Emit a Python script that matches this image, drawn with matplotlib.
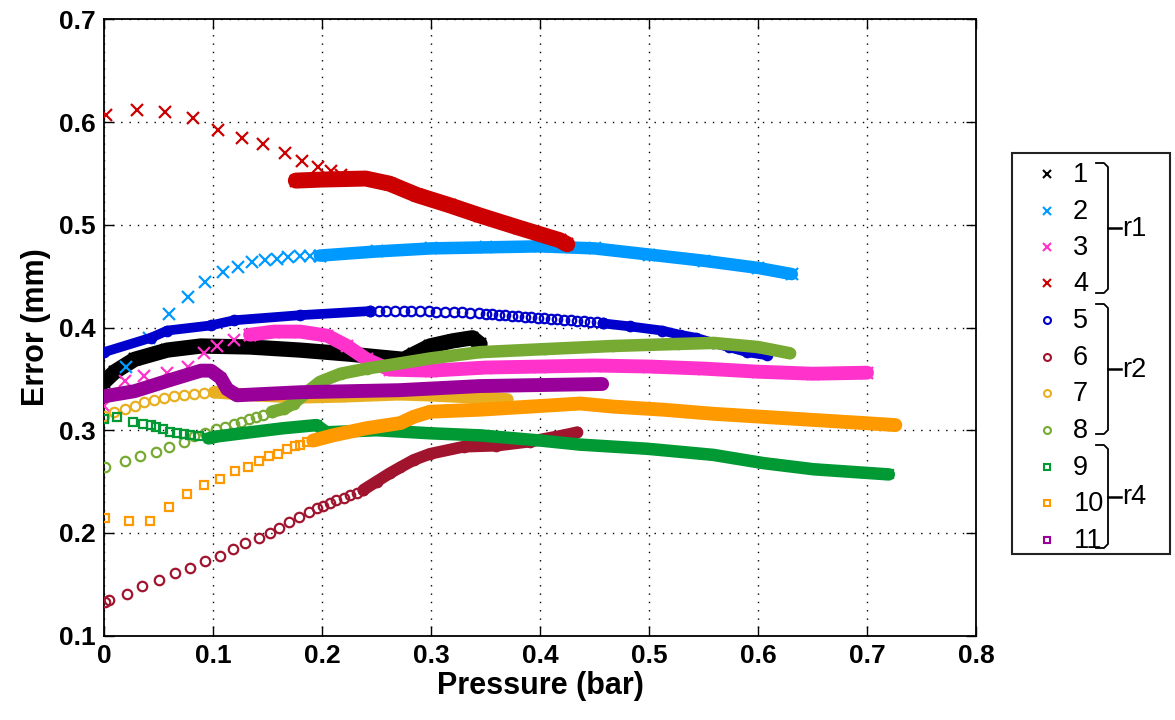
import matplotlib
matplotlib.use("Agg")
import matplotlib.pyplot as plt
from matplotlib.patches import Rectangle

plt.rcParams['font.family'] = ['Liberation Sans', 'DejaVu Sans']

# ---------------- data ----------------
# series 1 (black x) -- dense band
s1_band_x = [0.0, 0.01, 0.028, 0.058, 0.089, 0.134, 0.180, 0.226, 0.255, 0.275, 0.284, 0.299, 0.320, 0.338, 0.345]
s1_band_y = [0.347, 0.357, 0.369, 0.378, 0.382, 0.381, 0.378, 0.374, 0.371, 0.369, 0.374, 0.382, 0.387, 0.390, 0.384]

# series 2 (light blue x)
s2_x = [0.020, 0.041, 0.060, 0.077, 0.093, 0.109, 0.123, 0.136, 0.148, 0.159, 0.169, 0.180, 0.189, 0.198]
s2_y = [0.362, 0.390, 0.413, 0.430, 0.444, 0.454, 0.459, 0.464, 0.466, 0.467, 0.469, 0.470, 0.470, 0.470]
s2_band_x = [0.198, 0.25, 0.30, 0.35, 0.40, 0.45, 0.50, 0.55, 0.60, 0.631]
s2_band_y = [0.470, 0.474, 0.477, 0.478, 0.479, 0.477, 0.471, 0.465, 0.458, 0.452]

# series 3 (magenta x)
s3_x = [0.0, 0.019, 0.037, 0.058, 0.077, 0.092, 0.104, 0.119, 0.134]
s3_y = [0.324, 0.348, 0.353, 0.356, 0.362, 0.375, 0.382, 0.388, 0.393]
s3_band_x = [0.134, 0.156, 0.180, 0.205, 0.223, 0.241, 0.262, 0.30, 0.35, 0.40, 0.45, 0.50, 0.55, 0.60, 0.65, 0.70]
s3_band_y = [0.393, 0.396, 0.396, 0.392, 0.382, 0.369, 0.359, 0.358, 0.361, 0.362, 0.363, 0.362, 0.360, 0.357, 0.355, 0.356]

# series 4 (red x)
s4_x = [0.002, 0.030, 0.056, 0.082, 0.105, 0.127, 0.146, 0.166, 0.182, 0.196, 0.208, 0.217]
s4_y = [0.607, 0.612, 0.610, 0.604, 0.592, 0.584, 0.579, 0.570, 0.562, 0.556, 0.552, 0.548]
s4_band_x = [0.176, 0.20, 0.24, 0.262, 0.287, 0.317, 0.345, 0.381, 0.418, 0.425]
s4_band_y = [0.543, 0.544, 0.545, 0.540, 0.529, 0.519, 0.509, 0.497, 0.485, 0.481]

# series 5 (blue circles)
s5_band1_x = [0.0, 0.043, 0.058, 0.098, 0.119, 0.180, 0.244]
s5_band1_y = [0.376, 0.390, 0.397, 0.402, 0.407, 0.412, 0.416]
s5_x = [0.244, 0.252, 0.259, 0.267, 0.275, 0.282, 0.290, 0.298, 0.305, 0.313, 0.321, 0.328,
        0.336, 0.344, 0.350, 0.356, 0.362, 0.368, 0.374, 0.380, 0.386, 0.392, 0.398, 0.404,
        0.410, 0.416, 0.422, 0.428, 0.434, 0.440, 0.446, 0.452, 0.458]
s5_y = [0.416, 0.416, 0.416, 0.416, 0.416, 0.416, 0.416, 0.416, 0.415, 0.415, 0.415, 0.415,
        0.414, 0.414, 0.413, 0.413, 0.412, 0.412, 0.411, 0.411, 0.410, 0.410, 0.409, 0.409,
        0.408, 0.408, 0.407, 0.407, 0.406, 0.406, 0.405, 0.405, 0.404]
s5_band2_x = [0.458, 0.483, 0.512, 0.528, 0.543, 0.559, 0.573, 0.590, 0.608]
s5_band2_y = [0.404, 0.401, 0.397, 0.393, 0.390, 0.385, 0.381, 0.376, 0.373]

# series 6 (dark red circles)
s6_x = [0.001, 0.005, 0.021, 0.035, 0.050, 0.065, 0.079, 0.093, 0.106, 0.118, 0.129, 0.142, 0.152,
        0.161, 0.170, 0.179, 0.188, 0.195, 0.201, 0.207, 0.213, 0.220, 0.226, 0.232, 0.238]
s6_y = [0.133, 0.135, 0.141, 0.148, 0.154, 0.161, 0.166, 0.173, 0.178, 0.184, 0.190, 0.195, 0.200,
        0.205, 0.211, 0.216, 0.220, 0.224, 0.226, 0.229, 0.232, 0.234, 0.237, 0.239, 0.242]
s6_band_x = [0.238, 0.250, 0.262, 0.272, 0.284, 0.299, 0.330, 0.360, 0.391, 0.421, 0.434]
s6_band_y = [0.242, 0.250, 0.258, 0.264, 0.271, 0.277, 0.284, 0.285, 0.289, 0.295, 0.298]

# series 7 (gold circles)
s7_x = [0.0, 0.009, 0.019, 0.028, 0.037, 0.046, 0.055, 0.064, 0.073, 0.083, 0.092, 0.101]
s7_y = [0.314, 0.318, 0.321, 0.324, 0.327, 0.329, 0.331, 0.333, 0.334, 0.335, 0.336, 0.337]
s7_band_x = [0.101, 0.14, 0.18, 0.22, 0.271, 0.30, 0.34, 0.370]
s7_band_y = [0.337, 0.334, 0.332, 0.333, 0.335, 0.334, 0.332, 0.330]

# series 8 (olive circles)
s8_x = [0.001, 0.019, 0.033, 0.048, 0.060, 0.073, 0.083, 0.093, 0.103, 0.111, 0.119, 0.126, 0.133, 0.139, 0.146, 0.154]
s8_y = [0.264, 0.270, 0.275, 0.279, 0.284, 0.289, 0.294, 0.297, 0.301, 0.303, 0.306, 0.308, 0.311, 0.313, 0.315, 0.318]
s8_band_x = [0.154, 0.165, 0.174, 0.186, 0.198, 0.217, 0.241, 0.271, 0.30, 0.345, 0.405, 0.467, 0.527, 0.559, 0.60, 0.629]
s8_band_y = [0.318, 0.321, 0.326, 0.337, 0.347, 0.355, 0.360, 0.365, 0.370, 0.376, 0.379, 0.382, 0.384, 0.385, 0.381, 0.375]

# series 9 (green squares)
s9_x = [0.0, 0.012, 0.027, 0.036, 0.043, 0.048, 0.054, 0.061, 0.067, 0.073, 0.079, 0.087, 0.096]
s9_y = [0.311, 0.313, 0.308, 0.306, 0.305, 0.303, 0.301, 0.298, 0.297, 0.296, 0.295, 0.294, 0.292]
s9_band_x = [0.096, 0.104, 0.134, 0.165, 0.195, 0.204, 0.25, 0.30, 0.345, 0.40, 0.437, 0.498, 0.559, 0.605, 0.651, 0.72]
s9_band_y = [0.292, 0.294, 0.298, 0.302, 0.305, 0.298, 0.300, 0.297, 0.295, 0.290, 0.286, 0.282, 0.276, 0.268, 0.262, 0.257]

# series 10 (orange squares)
s10_x = [0.001, 0.023, 0.042, 0.060, 0.076, 0.092, 0.106, 0.120, 0.132, 0.142, 0.151, 0.160, 0.168, 0.175, 0.180, 0.186, 0.192]
s10_y = [0.215, 0.212, 0.212, 0.225, 0.238, 0.247, 0.253, 0.260, 0.264, 0.270, 0.275, 0.277, 0.282, 0.285, 0.286, 0.289, 0.290]
s10_band_x = [0.192, 0.210, 0.241, 0.272, 0.284, 0.299, 0.345, 0.391, 0.437, 0.467, 0.513, 0.559, 0.605, 0.651, 0.697, 0.726]
s10_band_y = [0.290, 0.295, 0.302, 0.307, 0.313, 0.318, 0.320, 0.323, 0.326, 0.323, 0.320, 0.316, 0.313, 0.310, 0.307, 0.305]

# series 11 (purple squares) -- dense band
s11_band_x = [0.0, 0.028, 0.058, 0.089, 0.098, 0.107, 0.113, 0.122, 0.18, 0.271, 0.345, 0.457]
s11_band_y = [0.333, 0.338, 0.348, 0.358, 0.358, 0.351, 0.340, 0.334, 0.337, 0.339, 0.343, 0.345]

labels = ['1', '2', '3', '4', '5', '6', '7', '8', '9', '10', '11']
groups = ['r1', 'r2', 'r4']
colors = ['#000000', '#0099ff', '#ff33cc', '#cc0000', '#0000cc', '#a0142e',
          '#e8b020', '#77aa33', '#009933', '#ff9900', '#990099']
markers = ['x', 'x', 'x', 'x', 'o', 'o', 'o', 'o', 's', 's', 's']

sparse = [None, (s2_x, s2_y), (s3_x, s3_y), (s4_x, s4_y), (s5_x, s5_y), (s6_x, s6_y),
          (s7_x, s7_y), (s8_x, s8_y), (s9_x, s9_y), (s10_x, s10_y), None]
bands = [[(s1_band_x, s1_band_y)], [(s2_band_x, s2_band_y)], [(s3_band_x, s3_band_y)],
         [(s4_band_x, s4_band_y)], [(s5_band1_x, s5_band1_y), (s5_band2_x, s5_band2_y)],
         [(s6_band_x, s6_band_y)], [(s7_band_x, s7_band_y)], [(s8_band_x, s8_band_y)],
         [(s9_band_x, s9_band_y)], [(s10_band_x, s10_band_y)], [(s11_band_x, s11_band_y)]]
band_width = [11, 9, 10, 11.5, 7, 8.5, 9, 9, 9, 10, 10]

# ---------------- figure ----------------
W, H = 1175, 720
fig = plt.figure(figsize=(W / 100, H / 100), dpi=100)
ax = fig.add_axes([104 / W, 1 - 635.7 / H, (976 - 104) / W, (635.7 - 19.3) / H])

for i in range(11):
    c, m = colors[i], markers[i]
    ms = 8.5 if m == 'x' else (6.8 if m == 'o' else 6.2)
    for bx, by in bands[i]:
        ax.plot(bx, by, '-', color=c, lw=band_width[i], solid_capstyle='round',
                solid_joinstyle='round', zorder=2 + i)
        ax.plot(bx, by, m, color=c, ms=ms, mew=1.6, mfc='none', zorder=2 + i)
    if sparse[i] is not None:
        sx, sy = sparse[i]
        ax.plot(sx, sy, m, color=c, ms=ms, mew=1.6, mfc='none', zorder=2 + i)

ax.set_xlim(0, 0.8)
ax.set_ylim(0.1, 0.7)
ax.set_xticks([0, 0.1, 0.2, 0.3, 0.4, 0.5, 0.6, 0.7, 0.8])
ax.set_xticklabels(['0', '0.1', '0.2', '0.3', '0.4', '0.5', '0.6', '0.7', '0.8'])
ax.set_yticks([0.1, 0.2, 0.3, 0.4, 0.5, 0.6, 0.7])
ax.set_yticklabels(['0.1', '0.2', '0.3', '0.4', '0.5', '0.6', '0.7'])
ax.grid(True, color='black', linestyle=(0, (1, 5)), linewidth=1.0)
ax.set_axisbelow(True)
ax.tick_params(direction='in', length=7, width=1, top=True, right=True,
               labelsize=19, pad=6)
for lab in ax.get_xticklabels() + ax.get_yticklabels():
    lab.set_fontweight('bold')
for sp in ax.spines.values():
    sp.set_linewidth(1.3)
ax.set_xlabel('Pressure (bar)', fontsize=22, fontweight='bold', labelpad=2)
ax.set_ylabel('Error (mm)', fontsize=22, fontweight='bold', labelpad=6)

# ---------------- legend (manual, figure pixel coordinates) ----------------
lax = fig.add_axes([0, 0, 1, 1], facecolor='none')
lax.set_xlim(0, W)
lax.set_ylim(H, 0)
lax.axis('off')
lax.add_patch(Rectangle((1012, 153), 158, 401, fill=True, facecolor='white',
                        edgecolor='#222222', lw=1.5))
entry_y = [174, 211, 247, 283, 320, 357, 393, 430, 467, 503, 540]
for i in range(11):
    m = markers[i]
    ms = 6 if m == 'x' else 5
    lax.plot([1046.5], [entry_y[i]], m, color=colors[i], ms=ms, mew=1.5, mfc='none')
    lax.text(1073 if len(labels[i]) == 1 else 1074, entry_y[i] + 1, labels[i],
             fontsize=19.5, ha='left', va='center')

brace_spans = [(163, 293), (304, 434), (445, 548)]
for (t, b), g in zip(brace_spans, groups):
    mid = (t + b) / 2
    xv = 1108
    lax.plot([1096, xv - 4, xv, xv, xv - 4, 1096],
             [t, t, t + 4, b - 4, b, b], color='black', lw=1.3)
    lax.plot([xv, 1121], [mid, mid], color='black', lw=1.8)
    lax.text(1122, mid + 1, g, fontsize=19.5, ha='left', va='center')

fig.savefig('out.png', dpi=100)
